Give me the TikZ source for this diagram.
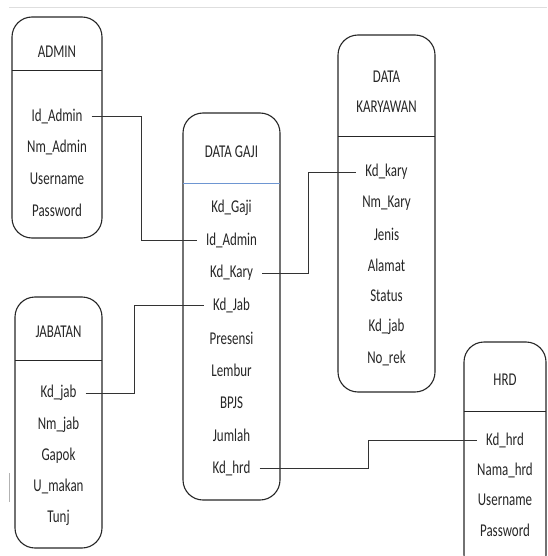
\documentclass[tikz,border=0pt]{standalone}
\usepackage{fontspec}
\newfontfamily\erfont[FakeStretch=0.72]{Carlito}
\usetikzlibrary{calc}
\definecolor{divblue}{RGB}{110,150,210}

\begin{document}
\begin{tikzpicture}[x=1pt, y=-1pt,
  entity/.style={draw=black!85, line width=1.1pt, rounded corners=20pt,
    inner sep=0pt},
  divider/.style={draw=black!85, line width=1pt},
  attr/.style={font=\erfont\fontsize{18}{30}\selectfont, text=black!85,
    inner xsep=9pt, inner ysep=1pt, align=center},
  link/.style={draw=black!80, line width=0.9pt}]
\clip (0,0) rectangle (547,556);
% faint screenshot marks
\draw[black!13, line width=0.8pt] (9,7) -- (547,7);
\draw[black!30, line width=0.8pt] (9,473) -- (9,502);

% ADMIN
\node[entity, minimum width=90pt, minimum height=221pt] (admin) at (57,127.5) {};
\draw[divider] (12,71) -- (102,71);
\node[attr] (admin-t) at (57,52) {ADMIN};
\foreach \t [count=\i] in {Id\_Admin, Nm\_Admin, Username, Password}
  \node[attr] (admin-\i) at (57,84.7+31.3*\i) {\t};

% JABATAN
\node[entity, minimum width=87pt, minimum height=251pt] (jab) at (58.5,422.5) {};
\draw[divider] (15,360) -- (102,360);
\node[attr] (jab-t) at (58.5,332) {JABATAN};
\foreach \t [count=\i] in {Kd\_jab, Nm\_jab, Gapok, U\_makan, Tunj}
  \node[attr] (jab-\i) at (58.5,361.7+31.3*\i) {\t};

% DATA GAJI
\node[entity, minimum width=97pt, minimum height=387pt] (gaji) at (231.5,306.5) {};
\draw[divblue, line width=1pt] (183,183) -- (280,183);
\node[attr] (gaji-t) at (231.5,152) {DATA GAJI};
\foreach \t [count=\i] in {Kd\_Gaji, Id\_Admin, Kd\_Kary, Kd\_Jab, Presensi,
    Lembur, BPJS, Jumlah, Kd\_hrd}
  \node[attr] (gaji-\i) at (231.5,175.5+32.5*\i) {\t};

% DATA KARYAWAN
\node[entity, minimum width=97pt, minimum height=357pt] (kary) at (386.5,213.5) {};
\draw[divider] (338,137) -- (435,137);
\node[attr] (kary-t) at (386.5,92) {DATA\\KARYAWAN};
\foreach \t [count=\i] in {Kd\_kary, Nm\_Kary, Jenis, Alamat, Status, Kd\_jab,
    No\_rek}
  \node[attr] (kary-\i) at (386.5,141+31*\i) {\t};

% HRD
\node[entity, minimum width=82pt, minimum height=233pt] (hrd) at (505,458.5) {};
\draw[divider] (464,411) -- (546,411);
\node[attr] (hrd-t) at (505,380) {HRD};
\foreach \t [count=\i] in {Kd\_hrd, Nama\_hrd, Username, Password}
  \node[attr] (hrd-\i) at (505,410+30*\i) {\t};

% relations
\draw[link] (admin-1.east) -- ++(50,0) |- (gaji-2.west);
\draw[link] (jab-1.east) -- ++(49,0) |- (gaji-4.west);
\draw[link] (gaji-3.east) -- ++(46,0) |- (kary-1.west);
\draw[link] (gaji-9.east) -- ++(109,0) |- (hrd-1.west);
\end{tikzpicture}
\end{document}
